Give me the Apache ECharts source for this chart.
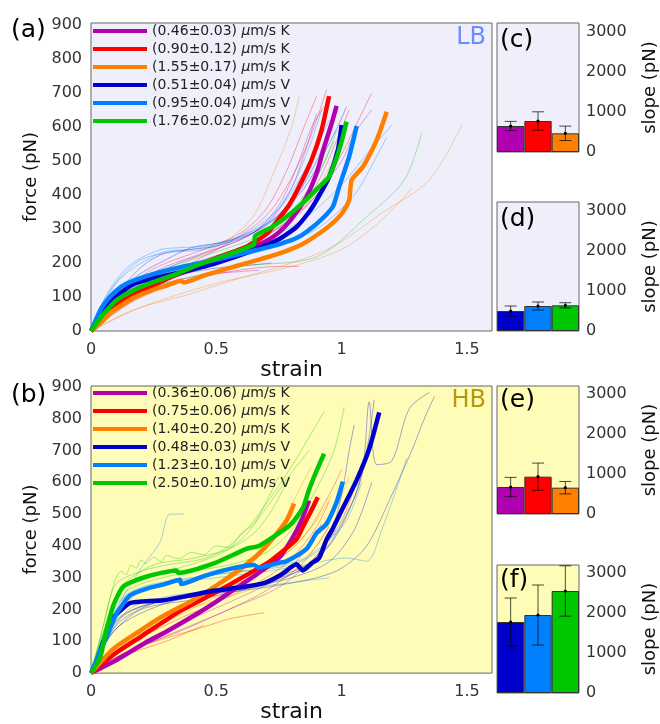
<!DOCTYPE html>
<html><head><meta charset="utf-8">
<script src="https://cdn.jsdelivr.net/npm/echarts@6/dist/echarts.min.js"></script>
<style>html,body{margin:0;padding:0;background:#fff}#c{width:660px;height:724px}</style>
</head><body><div id="c"></div>
<script>
// ---------- colours of the six groups ----------
const groupColors = ['#b000b0', '#ff0000', '#ff8000', '#0000cc', '#0080ff', '#00c800'];

// ---------- panel (a) LB : legend names ----------
const namesA = ['(0.46±0.03) μm/s K', '(0.90±0.12) μm/s K', '(1.55±0.17) μm/s K',
                '(0.51±0.04) μm/s V', '(0.95±0.04) μm/s V', '(1.76±0.02) μm/s V'];
// panel (a) thick (mean) curves [strain, force pN]
const aPurple = [[0,0],[0.05,40],[0.1,78],[0.155,98],[0.22,128],[0.3,155],[0.4,180],[0.5,205],[0.6,232],[0.7,265],[0.75,290],[0.8,330],[0.86,395],[0.9,464],[0.93,540],[0.96,610],[0.98,662]];
const aRed = [[0,0],[0.05,35],[0.09,72],[0.15,98],[0.22,125],[0.3,152],[0.42,192],[0.52,220],[0.62,248],[0.7,285],[0.74,321],[0.79,370],[0.83,424],[0.88,503],[0.92,591],[0.95,691]];
const aOrange = [[0,0],[0.04,25],[0.076,53],[0.12,75],[0.17,98],[0.25,122],[0.3,133],[0.36,148],[0.37,143],[0.45,163],[0.57,189],[0.67,210],[0.77,233],[0.85,258],[0.93,297],[0.965,318],[1.0,345],[1.03,385],[1.04,444],[1.085,483],[1.14,562],[1.18,645]];
const aBlue = [[0,0],[0.05,62],[0.1,100],[0.17,138],[0.25,155],[0.355,172],[0.5,200],[0.65,238],[0.75,270],[0.82,306],[0.87,350],[0.9,385],[0.95,453],[0.985,532],[1.0,606]];
const aLight = [[0,0],[0.04,65],[0.075,100],[0.12,130],[0.17,148],[0.25,168],[0.37,190],[0.5,210],[0.63,233],[0.75,255],[0.83,277],[0.9,315],[0.965,366],[0.99,424],[1.03,513],[1.06,603]];
const aGreen = [[0,0],[0.05,50],[0.1,90],[0.17,120],[0.235,140],[0.33,165],[0.43,195],[0.55,226],[0.65,255],[0.655,280],[0.72,305],[0.78,336],[0.85,380],[0.91,424],[0.95,454],[0.99,532],[1.02,616]];
// panel (a) thin (individual) curves, grouped by colour
const aThinPurple = [
  [[0,0],[0.1,70],[0.25,130],[0.45,165],[0.6,175],[0.67,179]],
  [[0,0],[0.08,70],[0.2,140],[0.35,200],[0.5,240],[0.65,290],[0.75,370],[0.82,480],[0.88,600],[0.93,660]],
  [[0,0],[0.12,100],[0.25,160],[0.45,210],[0.65,260],[0.85,360],[1.0,500],[1.05,580],[1.12,650]],
  [[0,0],[0.1,80],[0.2,150],[0.3,190],[0.45,230],[0.6,270],[0.72,330],[0.8,420],[0.86,540],[0.9,640]]
];
const aThinRed = [
  [[0,0],[0.1,80],[0.2,160],[0.3,200],[0.45,240],[0.6,290],[0.7,360],[0.78,470],[0.85,600],[0.9,690]],
  [[0,0],[0.15,80],[0.3,130],[0.45,160],[0.6,180],[0.75,190],[0.83,190]],
  [[0,0],[0.1,60],[0.25,140],[0.4,200],[0.55,260],[0.7,340],[0.8,450],[0.88,580],[0.94,710]],
  [[0,0],[0.15,110],[0.3,170],[0.5,220],[0.7,280],[0.9,400],[1.0,520],[1.08,640],[1.12,700]],
  [[0,0],[0.12,90],[0.25,150],[0.4,190],[0.55,225],[0.7,270],[0.8,330],[0.9,430],[0.98,560],[1.03,650]]
];
const aThinOrange = [
  [[0,0],[0.17,62],[0.4,110],[0.57,150],[0.8,200],[0.965,248],[1.16,347],[1.35,444],[1.48,606]],
  [[0,0],[0.2,70],[0.5,140],[0.8,190],[1.0,240],[1.15,320],[1.28,420]],
  [[0,0],[0.1,70],[0.25,150],[0.4,210],[0.55,270],[0.65,340],[0.72,450],[0.8,600],[0.83,690]],
  [[0,0],[0.15,80],[0.3,150],[0.45,200],[0.6,240],[0.75,290],[0.85,360],[0.95,480],[1.02,600]]
];
const aThinBlue = [
  [[0,0],[0.1,110],[0.2,170],[0.3,210],[0.4,245],[0.55,265],[0.7,310],[0.85,420],[0.97,580],[1.02,660]],
  [[0,0],[0.1,90],[0.2,130],[0.35,165],[0.5,185],[0.65,195],[0.72,200]],
  [[0,0],[0.08,90],[0.15,150],[0.22,200],[0.3,230],[0.4,240],[0.5,250],[0.65,290],[0.8,380],[0.9,500],[0.96,620]]
];
const aThinLight = [
  [[0,0],[0.05,80],[0.1,140],[0.15,175],[0.2,200],[0.3,235],[0.4,240],[0.55,265],[0.7,320],[0.8,420],[0.88,560],[0.92,650]],
  [[0,0],[0.06,100],[0.12,160],[0.2,210],[0.3,230],[0.45,240],[0.6,280],[0.75,360],[0.85,470],[0.95,620]],
  [[0,0],[0.1,90],[0.25,150],[0.45,200],[0.65,250],[0.85,330],[1.0,430],[1.1,520],[1.2,606]],
  [[0,0],[0.05,90],[0.1,150],[0.15,190],[0.2,215],[0.28,240],[0.35,245],[0.45,250],[0.6,280],[0.75,340],[0.85,440],[0.9,540]],
  [[0,0],[0.15,120],[0.3,170],[0.5,205],[0.7,240],[0.9,300],[1.05,400],[1.13,500],[1.18,570]]
];
const aThinGreen = [
  [[0,0],[0.15,100],[0.35,150],[0.6,190],[0.9,218],[1.1,336],[1.25,444],[1.32,583]],
  [[0,0],[0.1,90],[0.25,150],[0.45,200],[0.65,260],[0.8,340],[0.9,450],[0.97,560]],
  [[0,0],[0.12,110],[0.25,170],[0.4,210],[0.55,245],[0.7,290],[0.82,370],[0.92,480],[0.98,590]]
];

// ---------- panel (b) HB ----------
const namesB = ['(0.36±0.06) μm/s K', '(0.75±0.06) μm/s K', '(1.40±0.20) μm/s K',
                '(0.48±0.03) μm/s V', '(1.23±0.10) μm/s V', '(2.50±0.10) μm/s V'];
const bPurple = [[0,0],[0.1,40],[0.22,97],[0.3,130],[0.42,185],[0.5,225],[0.58,268],[0.66,310],[0.75,362],[0.8,420],[0.84,480],[0.87,543]];
const bRed = [[0,0],[0.09,58],[0.2,115],[0.355,195],[0.5,255],[0.62,308],[0.72,355],[0.82,421],[0.845,460],[0.875,505],[0.905,553]];
const bOrange = [[0,0],[0.09,77],[0.22,146],[0.3,185],[0.395,224],[0.5,275],[0.62,342],[0.7,400],[0.78,479],[0.81,533]];
const bBlue = [[0,0],[0.023,38],[0.05,100],[0.09,175],[0.155,220],[0.2,225],[0.29,229],[0.4,245],[0.49,259],[0.6,270],[0.69,283],[0.76,310],[0.82,342],[0.835,330],[0.845,323],[0.88,345],[0.91,362],[0.94,420],[0.965,455],[1.005,519],[1.06,607],[1.11,705],[1.15,820]];
const bLight = [[0,0],[0.036,68],[0.07,130],[0.1,185],[0.155,244],[0.22,265],[0.29,279],[0.355,294],[0.36,280],[0.45,305],[0.55,327],[0.65,340],[0.67,332],[0.75,347],[0.78,352],[0.86,391],[0.9,440],[0.94,470],[0.98,538],[1.005,602]];
const bGreen = [[0,0],[0.036,48],[0.06,130],[0.09,215],[0.13,273],[0.22,303],[0.34,323],[0.35,315],[0.49,345],[0.62,391],[0.67,400],[0.75,440],[0.8,470],[0.845,519],[0.87,577],[0.9,636],[0.93,690]];
const bThinPurple = [
  [[0,0],[0.15,70],[0.35,130],[0.55,200],[0.75,270],[0.9,370],[1.0,480],[1.05,580]],
  [[0,0],[0.1,50],[0.25,100],[0.4,150],[0.55,200],[0.7,260],[0.85,350],[0.95,460]],
  [[0,0],[0.2,90],[0.4,170],[0.6,240],[0.75,300],[0.85,380],[0.92,470]]
];
const bThinRed = [
  [[0,0],[0.15,70],[0.3,110],[0.45,145],[0.55,170],[0.69,190]],
  [[0,0],[0.15,60],[0.3,100],[0.45,151]],
  [[0,0],[0.1,70],[0.3,170],[0.5,250],[0.7,330],[0.85,430],[0.95,560],[1.0,640]],
  [[0,0],[0.15,90],[0.35,170],[0.55,240],[0.7,300],[0.8,360],[0.9,460],[0.95,540]]
];
const bThinOrange = [
  [[0,0],[0.1,80],[0.3,190],[0.5,270],[0.65,350],[0.75,450],[0.82,560],[0.88,650]],
  [[0,0],[0.15,100],[0.35,190],[0.55,240],[0.75,300],[0.9,400],[0.98,520],[1.03,620]],
  [[0,0],[0.1,60],[0.3,160],[0.5,240],[0.65,300],[0.8,390],[0.9,480],[0.96,560]]
];
const bThinBlue = [
  [[0,0],[0.05,90],[0.12,180],[0.3,230],[0.5,260],[0.7,290],[0.9,360],[1.0,470],[1.08,620],[1.11,853],[1.14,656],[1.2,667],[1.27,832],[1.35,883]],
  [[0,0],[0.08,120],[0.2,200],[0.4,230],[0.6,260],[0.8,310],[0.95,400],[1.05,550],[1.1,700],[1.13,860]],
  [[0,0],[0.1,150],[0.25,220],[0.45,250],[0.65,280],[0.85,330],[0.95,430],[1.0,560],[1.03,700],[1.05,780]],
  [[0,0],[0.1,140],[0.3,220],[0.5,250],[0.7,270],[0.9,300],[1.0,330],[1.1,400],[1.2,560],[1.28,700],[1.33,800],[1.37,870]],
  [[0,0],[0.05,80],[0.1,160],[0.2,210],[0.4,240],[0.6,265],[0.8,300],[0.95,350],[1.05,450],[1.12,600]]
];
const bThinLight = [
  [[0,0],[0.05,100],[0.1,200],[0.2,330],[0.275,411],[0.315,500],[0.37,500]],
  [[0,0],[0.05,110],[0.12,230],[0.3,280],[0.5,300],[0.7,320],[0.85,340],[1.02,362],[1.1,352],[1.16,450],[1.26,676]],
  [[0,0],[0.06,100],[0.15,200],[0.3,240],[0.5,260],[0.7,275],[0.85,290],[0.95,300]],
  [[0,0],[0.1,170],[0.2,260],[0.35,290],[0.5,310],[0.7,330],[0.85,360],[0.95,420],[1.02,480],[1.08,600]],
  [[0,0],[0.05,130],[0.1,220],[0.2,270],[0.4,300],[0.6,320],[0.8,340],[0.9,380],[0.98,450]]
];
const bThinGreen = [
  [[0,0],[0.05,150],[0.1,280],[0.2,320],[0.3,340],[0.45,360],[0.55,400],[0.65,480],[0.8,650],[0.93,823]],
  [[0,0],[0.05,120],[0.1,240],[0.2,300],[0.35,330],[0.5,370],[0.6,420],[0.7,520],[0.8,630],[0.87,700]],
  [[0,0],[0.06,140],[0.12,270],[0.25,340],[0.4,360],[0.55,390],[0.65,440],[0.72,510],[0.78,600]],
  [[0,0],[0.05,130],[0.1,230],[0.2,280],[0.4,320],[0.55,340],[0.7,380],[0.8,450],[0.9,580],[0.97,700],[1.01,835]],
  [[0,0],[0.04,120],[0.08,250],[0.1,300],[0.12,320],[0.14,310],[0.16,340],[0.18,330],[0.2,355],[0.22,345],[0.25,365],[0.28,350],[0.3,370],[0.35,360],[0.4,380],[0.45,372],[0.5,400],[0.55,395],[0.6,440],[0.65,470],[0.7,540],[0.75,620]]
];

// ---------- slope bar panels (pN): mean and error ----------
const cSlope = [650, 775, 467],  cErr = [115, 230, 180];   // (c) LB K
const dSlope = [500, 625, 642],  dErr = [125, 100, 65];    // (d) LB V
const eSlope = [675, 933, 658],  eErr = [240, 340, 155];   // (e) HB K
const fSlope = [1775, 1950, 2550], fErr = [600, 750, 630]; // (f) HB V

const yTicksMain = [0,100,200,300,400,500,600,700,800,900];
const xTicksMain = [0, 0.5, 1, 1.5];
const slopeTicks = [0, 1000, 2000, 3000];

// ---------- build ----------
const FONT = 'DejaVu Sans';
const bgA = '#efeffb', bgB = '#fefcb6';
const chart = echarts.init(document.getElementById('c'), null, {renderer: 'canvas'});

const grids = [
  {left: 91, top: 23, width: 401, height: 308},
  {left: 91, top: 386, width: 401, height: 307},
  {left: 497, top: 23, width: 84, height: 129},
  {left: 497, top: 202, width: 84, height: 129},
  {left: 497, top: 386, width: 84, height: 128},
  {left: 497, top: 565, width: 84, height: 128}
].map((g, i) => Object.assign(g, {show: true, borderColor: '#666', borderWidth: 1,
  backgroundColor: (i === 0 || i === 2 || i === 3) ? bgA : bgB, containLabel: false}));

const mainX = gi => ({
  gridIndex: gi, type: 'value', min: 0, max: 1.6, interval: 0.5,
  axisLine: {show: false}, axisTick: {show: false}, splitLine: {show: false},
  axisLabel: {fontSize: 16, fontFamily: FONT, color: '#333', margin: 11,
    formatter: v => xTicksMain.some(t => Math.abs(t - v) < 1e-9) ? String(v) : ''},
  name: 'strain', nameLocation: 'middle', nameGap: 9,
  nameTextStyle: {fontSize: 22, fontFamily: FONT, color: '#111'}
});
const mainY = (gi, max) => ({
  gridIndex: gi, type: 'value', min: 0, max: max, interval: 100,
  axisLine: {show: false}, axisTick: {show: false}, splitLine: {show: false},
  axisLabel: {fontSize: 16, fontFamily: FONT, color: '#333', margin: 9,
    formatter: v => yTicksMain.indexOf(v) >= 0 ? String(v) : ''},
  name: 'force (pN)', nameLocation: 'middle', nameGap: 46,
  nameTextStyle: {fontSize: 18, fontFamily: FONT, color: '#111'}
});
const barX = gi => ({gridIndex: gi, type: 'category', data: ['1', '2', '3'], show: false});
const barY = (gi, max) => ({
  gridIndex: gi, type: 'value', position: 'right', min: 0, max: max, interval: 1000,
  axisLine: {show: false}, axisTick: {show: false}, splitLine: {show: false},
  axisLabel: {fontSize: 16, fontFamily: FONT, color: '#333', margin: 7,
    formatter: v => slopeTicks.indexOf(v) >= 0 ? String(v) : ''},
  name: 'slope (pN)', nameLocation: 'middle', nameGap: 62, nameRotate: 90,
  nameTextStyle: {fontSize: 18, fontFamily: FONT, color: '#111'}
});

const series = [];
function thin(lines, color, gi) {
  lines.forEach((d, k) => series.push({
    type: 'line', name: 'thin' + gi + color + k, xAxisIndex: gi, yAxisIndex: gi, data: d,
    symbol: 'none', showSymbol: false, silent: true, z: 2, smooth: 0.3,
    lineStyle: {width: 1, color: color, opacity: 0.35}, itemStyle: {color: color}
  }));
}
function thick(name, d, color, gi) {
  series.push({
    type: 'line', name: name, xAxisIndex: gi, yAxisIndex: gi, data: d,
    symbol: 'none', showSymbol: false, silent: true, z: 3, smooth: 0.2,
    lineStyle: {width: 4.5, color: color, join: 'round'}, itemStyle: {color: color}
  });
}
[aThinPurple, aThinRed, aThinOrange, aThinBlue, aThinLight, aThinGreen].forEach((L, i) => thin(L, groupColors[i], 0));
[bThinPurple, bThinRed, bThinOrange, bThinBlue, bThinLight, bThinGreen].forEach((L, i) => thin(L, groupColors[i], 1));
[aPurple, aRed, aOrange, aBlue, aLight, aGreen].forEach((d, i) => thick(namesA[i], d, groupColors[i], 0));
[bPurple, bRed, bOrange, bBlue, bLight, bGreen].forEach((d, i) => thick(namesB[i], d, groupColors[i], 1));

function errRender(params, api) {
  const i = api.value(0), m = api.value(1), e = api.value(2);
  const t = api.coord([i, m + e]), b = api.coord([i, m - e]), c = api.coord([i, m]);
  const w = 6, st = {stroke: 'rgba(0,0,0,0.7)', lineWidth: 1};
  return {type: 'group', children: [
    {type: 'line', shape: {x1: t[0], y1: t[1], x2: b[0], y2: b[1]}, style: st},
    {type: 'line', shape: {x1: t[0] - w, y1: t[1], x2: t[0] + w, y2: t[1]}, style: st},
    {type: 'line', shape: {x1: b[0] - w, y1: b[1], x2: b[0] + w, y2: b[1]}, style: st},
    {type: 'circle', shape: {cx: c[0], cy: c[1], r: 1.6}, style: {fill: '#000'}}
  ]};
}
function bars(vals, errs, cols, gi) {
  series.push({
    type: 'bar', xAxisIndex: gi, yAxisIndex: gi, barCategoryGap: '0%', silent: true, z: 2,
    itemStyle: {borderColor: '#333', borderWidth: 1},
    data: vals.map((v, i) => ({value: v, itemStyle: {color: cols[i], borderColor: '#333', borderWidth: 1}}))
  });
  series.push({
    type: 'custom', xAxisIndex: gi, yAxisIndex: gi, silent: true, z: 5, clip: false,
    renderItem: errRender, data: vals.map((v, i) => [i, v, errs[i]])
  });
}
bars(cSlope, cErr, groupColors.slice(0, 3), 2);
bars(dSlope, dErr, groupColors.slice(3, 6), 3);
bars(eSlope, eErr, groupColors.slice(0, 3), 4);
bars(fSlope, fErr, groupColors.slice(3, 6), 5);

const legendCommon = {
  orient: 'vertical', icon: 'rect', itemWidth: 54, itemHeight: 4, itemGap: 0, padding: 0,
  selectedMode: false,
  textStyle: {fontSize: 14, fontFamily: FONT, color: '#222', lineHeight: 18,
    rich: {i: {fontStyle: 'italic', fontSize: 14, fontFamily: FONT, color: '#222', lineHeight: 18}}},
  formatter: n => n.replace('μ', '{i|μ}')
};
const legItems = names => names.map((n, i) => ({name: n, itemStyle: {color: groupColors[i], borderWidth: 0}}));

const txt = (s, x, y, size, color, align) => ({
  type: 'text', x: x, y: y, silent: true, z: 10,
  style: {text: s, fontSize: size, fontFamily: FONT, fill: color, align: align || 'left', verticalAlign: 'middle'}
});

chart.setOption({
  animation: false,
  grid: grids,
  xAxis: [mainX(0), mainX(1), barX(2), barX(3), barX(4), barX(5)],
  yAxis: [mainY(0, 906), mainY(1, 903), barY(2, 3225), barY(3, 3225), barY(4, 3200), barY(5, 3200)],
  legend: [
    Object.assign({}, legendCommon, {left: 93, top: 22, data: legItems(namesA)}),
    Object.assign({}, legendCommon, {left: 93, top: 384, data: legItems(namesB)})
  ],
  series: series,
  graphic: [
    txt('(a)', 11, 30, 25, '#000'),
    txt('(b)', 11, 395, 25, '#000'),
    txt('(c)', 500, 40, 25, '#000'),
    txt('(d)', 500, 219, 25, '#000'),
    txt('(e)', 500, 400, 25, '#000'),
    txt('(f)', 500, 580, 25, '#000'),
    txt('LB', 486, 38, 24, '#6a8cff', 'right'),
    txt('HB', 486, 401, 24, '#b5980e', 'right')
  ]
});
</script>
</body></html>
